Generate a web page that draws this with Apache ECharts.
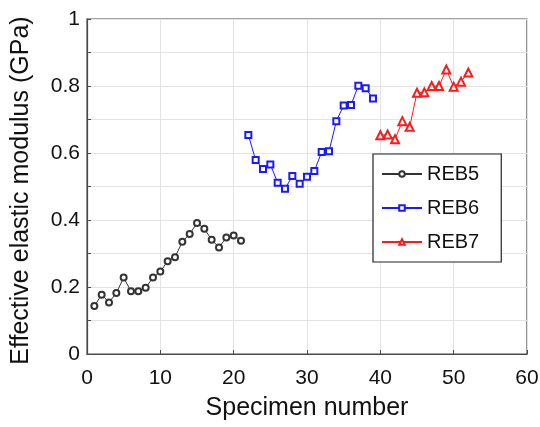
<!DOCTYPE html>
<html><head><meta charset="utf-8">
<script src="https://cdn.jsdelivr.net/npm/echarts@6/dist/echarts.min.js"></script>
<style>html,body{margin:0;padding:0;background:#fff}#c{width:540px;height:427px}</style>
</head><body><div id="c"></div>
<script>
const reb5X = [1,2,3,4,5,6,7,8,9,10,11,12,13,14,15,16,17,18,19,20,21];
const reb5Y = [0.143,0.177,0.154,0.182,0.228,0.187,0.187,0.198,0.228,0.246,0.277,0.289,0.335,0.358,0.391,0.374,0.341,0.318,0.348,0.354,0.338];
const reb6X = [22,23,24,25,26,27,28,29,30,31,32,33,34,35,36,37,38,39];
const reb6Y = [0.654,0.579,0.552,0.566,0.511,0.493,0.531,0.508,0.529,0.546,0.603,0.605,0.695,0.742,0.743,0.801,0.793,0.763];
const reb7X = [40,41,42,43,44,45,46,47,48,49,50,51,52];
const reb7Y = [0.653,0.655,0.641,0.695,0.678,0.780,0.781,0.800,0.800,0.849,0.798,0.813,0.840];
const seriesNames = ['REB5','REB6','REB7'];
const xTitle = 'Specimen number';
const yTitle = 'Effective elastic modulus (GPa)';

const pair = (xs, ys) => xs.map((x, i) => [x, ys[i]]);
const font = 'Liberation Sans, Arial, Helvetica, sans-serif';
const chart = echarts.init(document.getElementById('c'));
const mk = (name, data, color, symbol, size) => ({
  name, type: 'line', data, symbol, symbolSize: size, showSymbol: true,
  lineStyle: {color, width: 1}, itemStyle: {color, borderColor: color, borderWidth: 1},
  emphasis: {disabled: true}, animation: false
});
chart.setOption({
  animation: false,
  grid: {left: 87, right: 13, top: 19, bottom: 73, show: true, borderColor: '#4a4a4a', borderWidth: 1.2,
         containLabel: false, outerBoundsMode: 'none'},
  legend: {
    left: 373, top: 154, orient: 'vertical',
    padding: [10, 22, 10, 8], itemGap: 14, itemWidth: 40, itemHeight: 7,
    borderColor: '#222', borderWidth: 1.2, backgroundColor: '#fff',
    textStyle: {fontFamily: font, fontSize: 20, color: '#111', lineHeight: 20},
    data: seriesNames
  },
  xAxis: {
    type: 'value', min: 0, max: 60, interval: 10,
    name: xTitle, nameLocation: 'middle', nameGap: 42,
    nameTextStyle: {fontFamily: font, fontSize: 25, color: '#111'},
    axisLine: {show: true, onZero: false, lineStyle: {color: '#4a4a4a', width: 1.2}},
    axisTick: {show: true, inside: true, length: 4, lineStyle: {color: '#4a4a4a'}},
    axisLabel: {fontFamily: font, fontSize: 21, color: '#111', margin: 14},
    splitLine: {show: true, lineStyle: {color: '#e3e3e3', width: 1}}
  },
  yAxis: {
    type: 'value', min: 0, max: 1, interval: 0.1,
    name: yTitle, nameLocation: 'middle', nameGap: 53, nameRotate: 90,
    nameTextStyle: {fontFamily: font, fontSize: 25, color: '#111', padding: [0, 8, 0, 0]},
    axisLine: {show: true, onZero: false, lineStyle: {color: '#4a4a4a', width: 1.2}},
    axisTick: {show: true, inside: true, length: 4, lineStyle: {color: '#4a4a4a'}},
    axisLabel: {fontFamily: font, fontSize: 21, color: '#111', margin: 7,
      formatter: v => { const k = Math.round(v * 10); return k % 2 === 0 ? String(+(k/10).toFixed(1)) : ''; }},
    splitLine: {show: true, lineStyle: {color: '#e3e3e3', width: 1}}
  },
  series: [
    mk(seriesNames[0], pair(reb5X, reb5Y), '#333333', 'emptyCircle', 6),
    mk(seriesNames[1], pair(reb6X, reb6Y), '#1a1aff', 'emptyRect', 6),
    mk(seriesNames[2], pair(reb7X, reb7Y), '#ff1a1a', 'emptyTriangle', 8)
  ]
});
</script></body></html>
